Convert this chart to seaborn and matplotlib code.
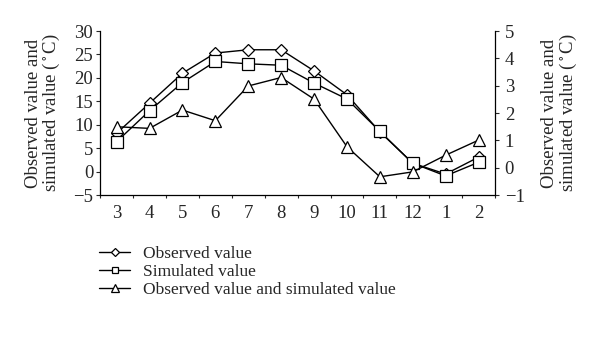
import numpy as np
import pandas as pd
import matplotlib
matplotlib.use("Agg")
import matplotlib.pyplot as plt
import seaborn as sns
from matplotlib.ticker import FixedLocator

months = ["3", "4", "5", "6", "7", "8", "9", "10", "11", "12", "1", "2"]
observed = [8.2, 14.6, 21.0, 25.3, 26.0, 26.0, 21.5, 16.4, 8.5, 1.8, -0.5, 3.1]
simulated = [6.4, 13.0, 19.0, 23.5, 23.0, 22.7, 18.9, 15.5, 8.6, 1.8, -0.9, 2.0]
difference = [1.50, 1.44, 2.11, 1.72, 2.99, 3.30, 2.51, 0.77, -0.33, -0.15, 0.46, 1.01]

left_ticks = [-5, 0, 5, 10, 15, 20, 25, 30]
right_ticks = [-1, 0, 1, 2, 3, 4, 5]

sns.set_style("ticks")
plt.rcParams["font.family"] = ["Liberation Serif", "DejaVu Serif"]
plt.rcParams["mathtext.fontset"] = "stix"

pos = np.arange(len(months))
df = pd.DataFrame({"pos": pos, "month": months, "observed": observed,
                   "simulated": simulated, "difference": difference})

fig = plt.figure(figsize=(6, 3.37), dpi=100)
ax = fig.add_axes([0.167, 0.421, 0.658, 0.487])
ax2 = ax.twinx()

common = dict(color="black", linewidth=1.0, markerfacecolor="white",
              markeredgecolor="black", markeredgewidth=0.9)
sns.lineplot(data=df, x="pos", y="observed", ax=ax, marker="D", markersize=6.5,
             label="Observed value", legend=False, **common)
sns.lineplot(data=df, x="pos", y="simulated", ax=ax, marker="s", markersize=8,
             label="Simulated value", legend=False, **common)
sns.lineplot(data=df, x="pos", y="difference", ax=ax2, marker="^", markersize=8.5,
             label="Observed value and simulated value", legend=False, **common)

FS = 13.5
ax.set_xlim(-0.5, 11.5)
ax.set_ylim(-5, 30)
ax2.set_ylim(-1, 5)
ax.set_yticks(left_ticks)
ax.set_yticklabels([str(t).replace("-", "\u2212") for t in left_ticks])
ax2.set_yticks(right_ticks)
ax2.set_yticklabels([str(t).replace("-", "\u2212") for t in right_ticks])

ax.set_xticks(pos)
ax.set_xticklabels(months)
ax.tick_params(axis="x", which="major", length=0, pad=7)
ax.xaxis.set_minor_locator(FixedLocator(np.arange(-0.5, 12, 1.0)))
ax.tick_params(axis="x", which="minor", length=2, width=0.8, direction="out")

for a in (ax, ax2):
    a.tick_params(axis="y", length=3, width=0.8, labelsize=FS, pad=2)
    a.tick_params(axis="x", labelsize=FS)
    for s in a.spines.values():
        s.set_linewidth(0.9)
        s.set_color("black")
    a.spines["top"].set_visible(False)
ax.spines["right"].set_visible(False)
ax2.spines["left"].set_visible(False)
ax2.spines["bottom"].set_visible(False)
ax2.tick_params(axis="y", pad=4)

ax.set_xlabel("")
ax.set_ylabel("Observed value and\nsimulated value ($^\\circ$C)", fontsize=FS, labelpad=8, linespacing=0.95)
ax2.set_ylabel("Observed value and\nsimulated value ($^\\circ$C)", fontsize=FS, labelpad=12, linespacing=0.95)

h1, l1 = ax.get_legend_handles_labels()
h2, l2 = ax2.get_legend_handles_labels()
fig.legend(h1 + h2, l1 + l2, loc="upper left", bbox_to_anchor=(0.165, 0.271),
           frameon=False, fontsize=12.5, markerscale=0.6, handlelength=1.8,
           handletextpad=0.75, labelspacing=0.1, borderaxespad=0,
           borderpad=0)

fig.savefig("out.png", dpi=100)
